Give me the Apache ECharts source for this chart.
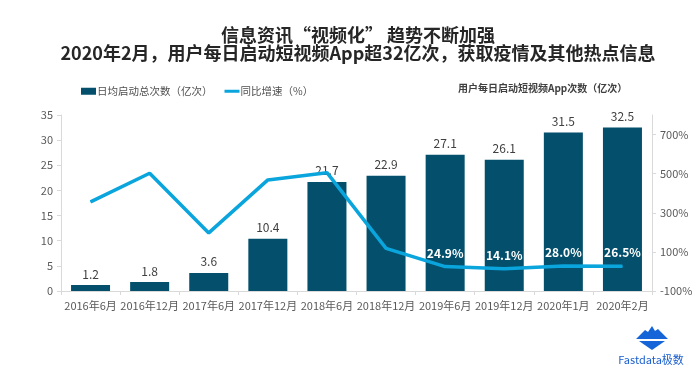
<!DOCTYPE html>
<html>
<head>
<meta charset="utf-8">
<script src="https://cdn.jsdelivr.net/npm/echarts@6/dist/echarts.min.js"></script>
<style>
html,body{margin:0;padding:0;background:#fff;}
#chart{width:700px;height:372px;}
</style>
</head>
<body>
<div id="chart"></div>
<script>
var titleLine1 = '信息资讯“视频化” 趋势不断加强';
var titleLine2 = '2020年2月，用户每日启动短视频App超32亿次，获取疫情及其他热点信息';
var rightNote = '用户每日启动短视频App次数（亿次）';
var categories = ['2016年6月','2016年12月','2017年6月','2017年12月','2018年6月','2018年12月','2019年6月','2019年12月','2020年1月','2020年2月'];
var barName = '日均启动总次数（亿次）';
var lineName = '同比增速（%）';
var barValues = [1.2, 1.8, 3.6, 10.4, 21.7, 22.9, 27.1, 26.1, 31.5, 32.5];
var growthValues = [356, 502, 197, 468, 505, 118, 24.9, 14.1, 28.0, 26.5];
var labeledGrowth = [false, false, false, false, false, false, true, true, true, true];
var rightTicks = [-100, 100, 300, 500, 700];
var logoText = 'Fastdata极数';

var CJK = '"Noto Sans CJK SC", "Noto Sans", sans-serif';
var chart = echarts.init(document.getElementById('chart'), null, {renderer: 'canvas'});

var lineData = growthValues.map(function (v, i) {
  return {
    value: v,
    label: {show: labeledGrowth[i]}
  };
});

var option = {
  backgroundColor: '#ffffff',
  textStyle: {fontFamily: CJK},
  animation: false,
  legend: {
    left: 76,
    top: 81,
    itemWidth: 15,
    itemHeight: 7,
    itemGap: 12,
    textStyle: {fontSize: 10.5, color: '#505050', fontFamily: CJK, padding: [0, 0, 0, -4]},
    data: [
      {name: barName, icon: 'rect'},
      {name: lineName, icon: 'path://M0,0H15V3H0Z', itemStyle: {color: '#0aa5dc', borderWidth: 0}}
    ]
  },
  grid: {left: 61, right: 48, top: 115, bottom: 81, containLabel: false},
  xAxis: {
    type: 'category',
    data: categories,
    boundaryGap: true,
    axisLine: {show: true, lineStyle: {color: '#d9d9d9', width: 1}},
    axisTick: {show: true, alignWithLabel: false, length: 4, lineStyle: {color: '#d9d9d9'}},
    axisLabel: {color: '#595959', fontSize: 11, margin: 9, interval: 0, fontFamily: CJK}
  },
  yAxis: [
    {
      type: 'value',
      min: 0,
      max: 35,
      interval: 5,
      axisLine: {show: true, lineStyle: {color: '#d9d9d9'}},
      axisTick: {show: true, length: 4, lineStyle: {color: '#d9d9d9'}},
      splitLine: {show: false},
      axisLabel: {color: '#595959', fontSize: 11, margin: 8}
    },
    {
      type: 'value',
      min: -100,
      max: 800,
      position: 'right',
      axisLine: {show: true, lineStyle: {color: '#d9d9d9'}},
      axisTick: {show: true, length: 4, lineStyle: {color: '#d9d9d9'}, customValues: rightTicks},
      splitLine: {show: false},
      axisLabel: {color: '#595959', fontSize: 11, margin: 8, customValues: rightTicks, formatter: '{value}%'}
    }
  ],
  series: [
    {
      name: barName,
      type: 'bar',
      data: barValues,
      barWidth: '66%',
      itemStyle: {color: '#034f6c'},
      label: {show: true, position: 'top', distance: 5, color: '#404040', fontSize: 12, fontFamily: CJK}
    },
    {
      name: lineName,
      type: 'line',
      yAxisIndex: 1,
      data: lineData,
      symbol: 'circle',
      symbolSize: 1,
      showSymbol: true,
      smooth: false,
      lineStyle: {color: '#0aa5dc', width: 3.5},
      itemStyle: {color: '#0aa5dc'},
      label: {
        show: false,
        position: 'top',
        distance: 7,
        offset: [2, 0],
        color: '#ffffff',
        fontWeight: 'bold',
        fontSize: 12,
        fontFamily: CJK,
        formatter: function (p) { return Number(p.value).toFixed(1) + '%'; }
      },
      labelLayout: {hideOverlap: false},
      z: 5
    }
  ],
  graphic: [
    {type: 'text', silent: true, x: 358, y: 35,
     style: {text: titleLine1, align: 'center', verticalAlign: 'middle', fontSize: 18, fontWeight: 'bold', fill: '#262626', fontFamily: CJK}},
    {type: 'text', silent: true, x: 358, y: 53,
     style: {text: titleLine2, align: 'center', verticalAlign: 'middle', fontSize: 18, fontWeight: 'bold', fill: '#262626', fontFamily: CJK}},
    {type: 'text', silent: true, x: 458, y: 88,
     style: {text: rightNote, align: 'left', verticalAlign: 'middle', fontSize: 10, fontWeight: 'bold', fill: '#404040', fontFamily: CJK}},
    {type: 'polygon', silent: true,
     shape: {points: [[652,326],[655,331],[658,329],[668,339],[636,339],[645,330],[648,332]]},
     style: {fill: '#1565d8'}},
    {type: 'polygon', silent: true,
     shape: {points: [[639,341],[665,341],[652,350]]},
     style: {fill: '#1565d8'}},
    {type: 'text', silent: true, x: 651, y: 360,
     style: {text: logoText, align: 'center', verticalAlign: 'middle', fontSize: 11, fill: '#1a5fd0', fontFamily: CJK}}
  ]
};
chart.setOption(option);
</script>
</body>
</html>
